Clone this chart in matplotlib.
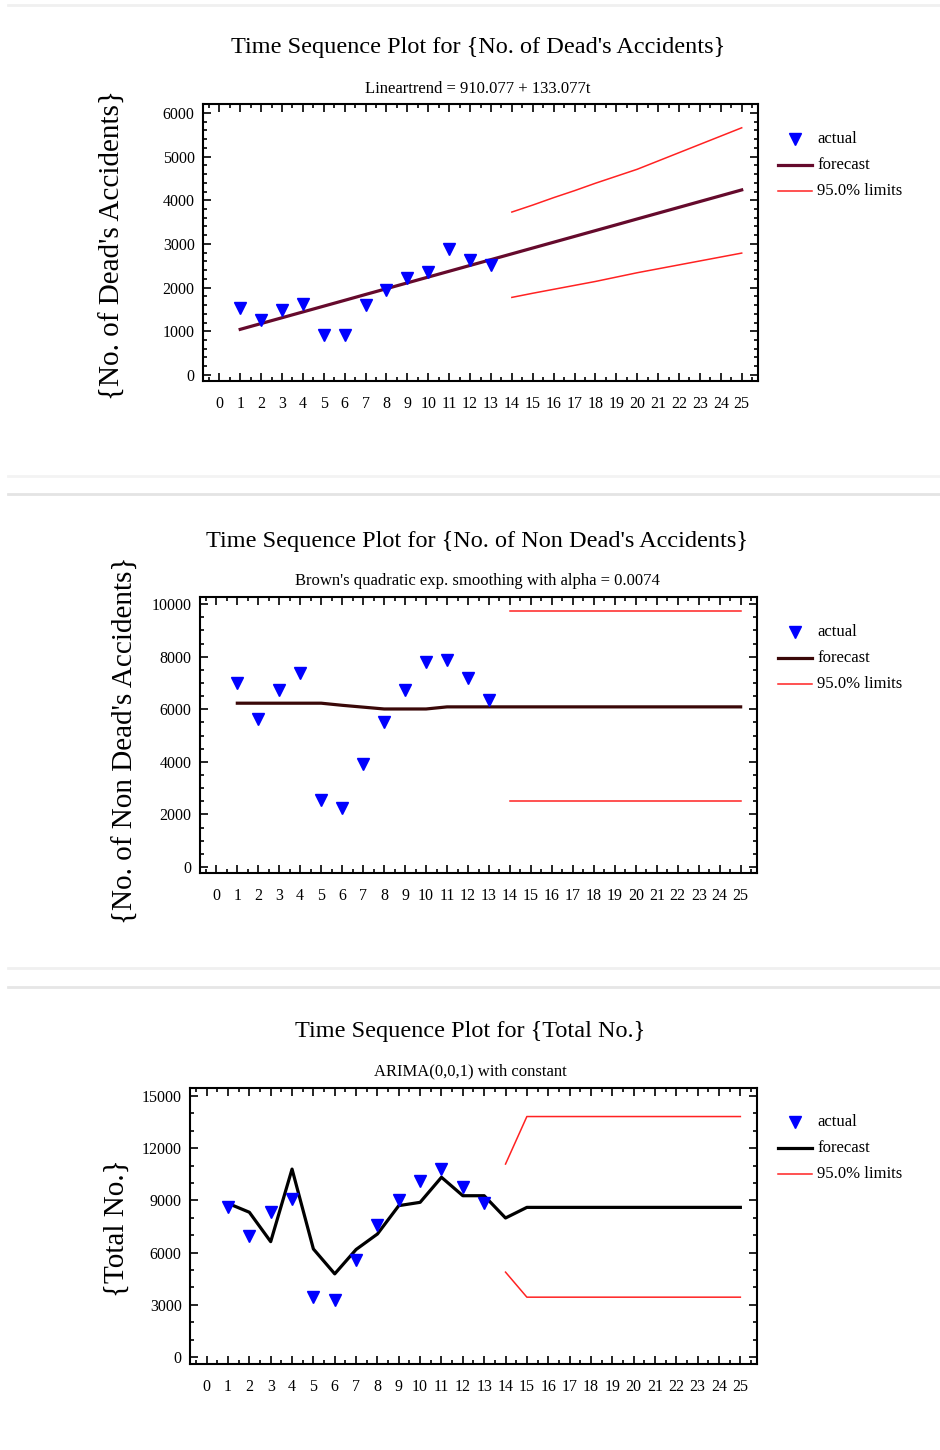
import matplotlib
matplotlib.use('Agg')
import matplotlib.pyplot as plt
from matplotlib.ticker import MultipleLocator
from matplotlib.lines import Line2D

# periods
t_actual = list(range(1, 14))
t_fc = list(range(1, 26))
t_lim = list(range(14, 26))

# panel 1 - dead accidents, linear trend
dead_actual = [1530, 1265, 1480, 1630, 925, 925, 1605, 1950, 2230, 2365, 2895, 2630, 2515]
dead_fc = [1043, 1176, 1309, 1442, 1575, 1708, 1842, 1975, 2108, 2241, 2374, 2507, 2640,
           2773, 2906, 3039, 3172, 3305, 3438, 3572, 3705, 3838, 3971, 4104, 4237]
dead_upper = [3730, 3890, 4060, 4220, 4390, 4550, 4710, 4900, 5090, 5280, 5470, 5660]
dead_lower = [1775, 1870, 1960, 2050, 2140, 2240, 2340, 2430, 2520, 2610, 2700, 2790]

# panel 2 - non dead accidents, Brown's quadratic smoothing
nondead_actual = [7000, 5630, 6730, 7380, 2550, 2240, 3920, 5510, 6730, 7800, 7870, 7190, 6350]
nondead_fc = [6230, 6230, 6230, 6230, 6230, 6150, 6080, 6010, 6010, 6010, 6090, 6090, 6090,
              6090, 6090, 6090, 6090, 6090, 6090, 6090, 6090, 6090, 6090, 6090, 6090]
nondead_upper = [9730] * 12
nondead_lower = [2510] * 12

# panel 3 - total, ARIMA(0,0,1)
total_actual = [8600, 6980, 8360, 9080, 3440, 3250, 5600, 7590, 9020, 10130, 10800, 9750, 8830]
total_fc = [8830, 8320, 6630, 10800, 6210, 4780, 6180, 7070, 8700, 8890, 10330, 9270, 9270,
            7990, 8600, 8600, 8600, 8600, 8600, 8600, 8600, 8600, 8600, 8600, 8600]
total_upper = [11090, 13820, 13820, 13820, 13820, 13820, 13820, 13820, 13820, 13820, 13820, 13820]
total_lower = [4880, 3440, 3440, 3440, 3440, 3440, 3440, 3440, 3440, 3440, 3440, 3440]

SERIF = 'Liberation Serif'
W, H = 940, 1450


def fx(px):
    return px / W


def fy(py):
    return 1 - py / H


def panel(fig, box, actual, fc, upper, lower, fc_color, ylim, ymajor, yminor,
          title, subtitle, ylabel, title_y, sub_y, title_x, ylab_x, ylab_y, leg_y):
    left, top, right, bottom = box
    ax = fig.add_axes([fx(left), fy(bottom), fx(right - left), (bottom - top) / H])
    ax.plot(t_fc, fc, color=fc_color, lw=2.3, zorder=3)
    ax.plot(t_lim, upper, color='#ff2222', lw=1.1, zorder=2)
    ax.plot(t_lim, lower, color='#ff2222', lw=1.1, zorder=2)
    ax.plot(t_actual, actual, 'v', color='#0000ff', ms=8, zorder=4)
    ax.set_xlim(-0.78, 25.78)
    ax.set_ylim(*ylim)
    ax.xaxis.set_major_locator(MultipleLocator(1))
    ax.xaxis.set_minor_locator(MultipleLocator(0.5))
    ax.yaxis.set_major_locator(MultipleLocator(ymajor))
    ax.yaxis.set_minor_locator(MultipleLocator(yminor))
    ax.tick_params(which='both', direction='in', top=True, right=True, width=1.2)
    ax.tick_params(which='major', length=6, labelsize=11.5)
    ax.tick_params(axis='x', which='major', pad=11)
    ax.tick_params(axis='y', which='major', pad=6)
    ax.tick_params(which='minor', length=3)
    for lab in ax.get_xticklabels() + ax.get_yticklabels():
        lab.set_family(SERIF)
    for s in ax.spines.values():
        s.set_linewidth(1.5)
    fig.text(fx(title_x), fy(title_y), title, family=SERIF, fontsize=17.5,
             ha='center', va='center')
    fig.text(fx(title_x), fy(sub_y), subtitle, family=SERIF, fontsize=12,
             ha='center', va='center')
    fig.text(fx(ylab_x), fy(ylab_y), ylabel, family=SERIF, fontsize=21,
             rotation=90, ha='center', va='center')
    # legend drawn as in the original
    fig.add_artist(Line2D([fx(795)], [fy(leg_y)], marker='v', color='#0000ff', ms=8, lw=0))
    fig.add_artist(Line2D([fx(778), fx(812)], [fy(leg_y + 26)] * 2, color=fc_color, lw=2.3))
    fig.add_artist(Line2D([fx(778), fx(812)], [fy(leg_y + 52)] * 2, color='#ff2222', lw=1.1))
    for i, txt in enumerate(['actual', 'forecast', '95.0% limits']):
        fig.text(fx(817), fy(leg_y + 26 * i), txt, family=SERIF, fontsize=12,
                 ha='left', va='center')
    return ax


fig = plt.figure(figsize=(9.4, 14.5), dpi=100)

panel(fig, (203, 104, 758, 381), dead_actual, dead_fc, dead_upper, dead_lower, '#650a2c',
      (-140, 6205), 1000, 200,
      "Time Sequence Plot for {No. of Dead's Accidents}",
      'Lineartrend = 910.077 + 133.077t',
      "{No. of Dead's Accidents}", 48, 89, 478, 113, 245, 139)

panel(fig, (200, 597, 757, 873), nondead_actual, nondead_fc, nondead_upper, nondead_lower, '#3a0808',
      (-230, 10270), 2000, 500,
      "Time Sequence Plot for {No. of Non Dead's Accidents}",
      "Brown's quadratic exp. smoothing with alpha = 0.0074",
      "{No. of Non Dead's Accidents}", 541, 581, 477, 126, 740, 632)

panel(fig, (190, 1088, 757, 1364), total_actual, total_fc, total_upper, total_lower, '#000000',
      (-400, 15460), 3000, 1000,
      'Time Sequence Plot for {Total No.}',
      'ARIMA(0,0,1) with constant',
      '{Total No.}', 1031, 1071, 470, 117, 1228, 1122)

# faint page separators between the three screenshots
for py, c in [(5, '#f0f0f0'), (476, '#f3f3f3'), (494, '#e4e4e4'), (968, '#f0f0f0'), (987, '#e6e6e6')]:
    fig.add_artist(Line2D([fx(8), 1], [fy(py)] * 2, color=c, lw=2))

fig.savefig('out.png', dpi=100)
